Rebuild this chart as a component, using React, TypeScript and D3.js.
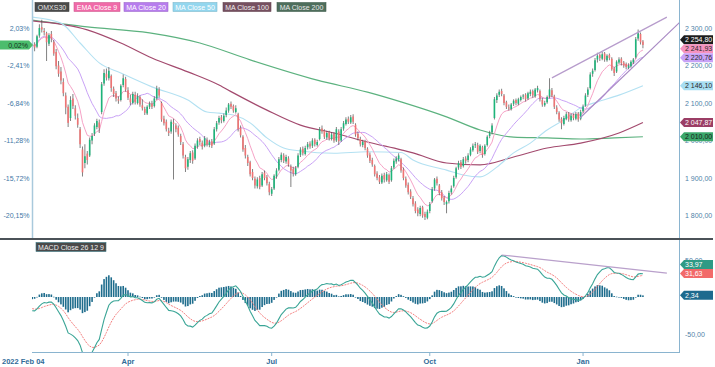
import React from 'react';
import * as d3 from 'd3';

// ---------- DATA ----------
const START_DATE = '2022-02-04';
const HOLIDAYS = ['2022-04-15', '2022-04-18', '2022-05-26', '2022-06-06', '2022-06-24', '2022-12-26', '2023-01-06'];

const opens = [
  2262, 2256, 2250, 2280, 2302, 2292, 2286, 2258, 2284, 2262,
  2236, 2200, 2184, 2156, 2120, 2090, 2060, 2112, 2086, 2060,
  2030, 1976, 1940, 1965, 1960, 2000, 2018, 2036, 2048, 2076,
  2152, 2178, 2166, 2172, 2138, 2126, 2110, 2108, 2148, 2164,
  2134, 2112, 2100, 2122, 2100, 2116, 2094, 2084, 2072, 2090,
  2098, 2092, 2112, 2136, 2100, 2058, 2050, 2026, 2024, 2048,
  2040, 2034, 2012, 1990, 1956, 1930, 1948, 1968, 1952, 1984,
  2004, 1994, 1986, 2002, 1988, 1998, 1992, 2030, 2048, 2062,
  2052, 2068, 2080, 2098, 2092, 2076, 2070, 2034, 2010, 1980,
  1956, 1942, 1916, 1898, 1878, 1900, 1880, 1914, 1902, 1884,
  1858, 1872, 1904, 1922, 1948, 1960, 1944, 1952, 1930, 1924,
  1910, 1930, 1962, 1978, 1964, 1982, 1992, 1986, 2002, 1988,
  2004, 2032, 2026, 2008, 2022, 2004, 2018, 2000, 2024, 2000,
  2032, 2044, 2058, 2048, 2064, 2042, 2018, 2004, 1988, 1998,
  1978, 1962, 1948, 1932, 1912, 1902, 1888, 1908, 1894, 1908,
  1894, 1928, 1944, 1950, 1950, 1922, 1898, 1882, 1864, 1846,
  1832, 1816, 1804, 1822, 1804, 1794, 1812, 1838, 1872, 1898,
  1880, 1862, 1848, 1830, 1838, 1862, 1878, 1902, 1928, 1942,
  1932, 1952, 1948, 1962, 1974, 1988, 1988, 1972, 1982, 1964,
  1988, 2012, 2022, 2060, 2108, 2122, 2132, 2120, 2102, 2088,
  2084, 2098, 2108, 2098, 2108, 2118, 2122, 2112, 2124, 2132,
  2118, 2134, 2132, 2108, 2094, 2102, 2118, 2134, 2118, 2088,
  2074, 2058, 2044, 2058, 2072, 2054, 2068, 2058, 2072, 2058,
  2078, 2094, 2122, 2140, 2178, 2188, 2216, 2228, 2218, 2232,
  2214, 2228, 2218, 2192, 2184, 2208, 2218, 2208, 2204, 2194,
  2198, 2208, 2222, 2272, 2284, 2264
];
const highs = [
  2270, 2262, 2282, 2310, 2322, 2300, 2290, 2286, 2292, 2268,
  2244, 2212, 2196, 2166, 2128, 2096, 2118, 2124, 2094, 2072,
  2036, 1984, 1990, 1972, 2008, 2020, 2046, 2058, 2056, 2156,
  2190, 2192, 2196, 2176, 2144, 2132, 2118, 2150, 2176, 2170,
  2142, 2122, 2130, 2130, 2126, 2120, 2110, 2090, 2094, 2104,
  2106, 2118, 2146, 2142, 2104, 2066, 2056, 2034, 2056, 2058,
  2046, 2040, 2018, 1996, 1962, 1956, 1972, 1974, 1992, 2006,
  2010, 2000, 2012, 2008, 2002, 2004, 2036, 2052, 2066, 2068,
  2072, 2088, 2100, 2104, 2096, 2094, 2074, 2040, 2014, 1988,
  1962, 1946, 1924, 1904, 1902, 1906, 1916, 1920, 1908, 1890,
  1876, 1910, 1926, 1956, 1968, 1966, 1962, 1958, 1936, 1930,
  1932, 1966, 1982, 1984, 1986, 1996, 1998, 2006, 2006, 2002,
  2036, 2040, 2030, 2026, 2026, 2022, 2022, 2036, 2030, 2036,
  2052, 2062, 2064, 2068, 2070, 2046, 2024, 2010, 2002, 2002,
  1982, 1968, 1954, 1936, 1918, 1908, 1912, 1914, 1916, 1912,
  1932, 1952, 1958, 1966, 1954, 1928, 1904, 1888, 1870, 1852,
  1838, 1822, 1826, 1826, 1810, 1816, 1836, 1876, 1900, 1904,
  1884, 1868, 1852, 1840, 1866, 1880, 1906, 1930, 1946, 1948,
  1956, 1958, 1966, 1982, 1992, 1996, 1994, 1990, 1986, 1990,
  2014, 2026, 2046, 2116, 2126, 2136, 2138, 2124, 2106, 2096,
  2100, 2110, 2112, 2114, 2120, 2124, 2126, 2130, 2136, 2136,
  2140, 2146, 2136, 2114, 2106, 2120, 2166, 2140, 2122, 2094,
  2078, 2062, 2066, 2076, 2076, 2072, 2072, 2076, 2076, 2082,
  2096, 2126, 2142, 2182, 2192, 2220, 2234, 2232, 2236, 2236,
  2230, 2232, 2222, 2196, 2214, 2222, 2222, 2212, 2208, 2206,
  2214, 2220, 2276, 2296, 2288, 2268
];
const lows = [
  2240, 2238, 2246, 2274, 2288, 2280, 2212, 2252, 2262, 2226,
  2190, 2170, 2150, 2118, 2070, 2036, 2052, 2084, 2056, 2034,
  1980, 1904, 1926, 1936, 1956, 1990, 2012, 2030, 2020, 2070,
  2146, 2160, 2160, 2130, 2116, 2104, 2098, 2104, 2142, 2130,
  2108, 2094, 2096, 2096, 2096, 2090, 2080, 2068, 2068, 2084,
  2084, 2088, 2108, 2114, 2050, 2040, 2024, 2012, 2018, 1896,
  2022, 2010, 1988, 1952, 1916, 1922, 1940, 1938, 1948, 1978,
  1988, 1976, 1982, 1984, 1982, 1980, 1988, 2024, 2042, 2046,
  2048, 2062, 2074, 2084, 2074, 2072, 2024, 2008, 1970, 1952,
  1932, 1904, 1894, 1872, 1872, 1870, 1876, 1894, 1880, 1854,
  1852, 1868, 1898, 1918, 1942, 1940, 1938, 1930, 1876, 1904,
  1906, 1926, 1956, 1960, 1960, 1976, 1978, 1980, 1984, 1984,
  2000, 2018, 2004, 2002, 2000, 2000, 1994, 1996, 1988, 1996,
  2026, 2040, 2044, 2044, 2044, 2010, 2000, 1984, 1982, 1974,
  1954, 1940, 1930, 1904, 1894, 1884, 1884, 1888, 1890, 1884,
  1890, 1924, 1938, 1944, 1914, 1894, 1874, 1856, 1844, 1824,
  1806, 1798, 1798, 1794, 1788, 1790, 1806, 1834, 1866, 1880,
  1854, 1840, 1828, 1806, 1832, 1856, 1874, 1898, 1922, 1924,
  1928, 1938, 1942, 1958, 1970, 1980, 1964, 1966, 1954, 1960,
  1984, 2006, 2016, 2056, 2100, 2116, 2118, 2094, 2084, 2080,
  2080, 2092, 2094, 2094, 2104, 2110, 2104, 2108, 2118, 2114,
  2114, 2128, 2104, 2090, 2090, 2098, 2112, 2116, 2084, 2070,
  2050, 2030, 2040, 2054, 2050, 2050, 2054, 2054, 2050, 2054,
  2074, 2090, 2116, 2136, 2170, 2184, 2208, 2212, 2214, 2210,
  2210, 2214, 2186, 2172, 2180, 2204, 2200, 2194, 2190, 2190,
  2194, 2204, 2218, 2266, 2256, 2246
];
const closes = [
  2254.27, 2248, 2278, 2300, 2296, 2289, 2262, 2281, 2272, 2232,
  2198, 2178, 2160, 2126, 2088, 2047, 2108, 2092, 2066, 2042,
  1990, 1915, 1958, 1948, 2002, 2012, 2040, 2052, 2034, 2150,
  2180, 2168, 2186, 2140, 2124, 2112, 2106, 2146, 2166, 2136,
  2114, 2102, 2124, 2102, 2118, 2096, 2086, 2074, 2090, 2098,
  2090, 2112, 2138, 2120, 2056, 2046, 2030, 2020, 2050, 2044,
  2030, 2016, 1996, 1960, 1926, 1950, 1966, 1946, 1986, 2000,
  1996, 1984, 2006, 1990, 1996, 1986, 2030, 2046, 2060, 2054,
  2066, 2080, 2096, 2090, 2080, 2086, 2030, 2014, 1976, 1960,
  1940, 1910, 1900, 1880, 1896, 1876, 1910, 1900, 1886, 1862,
  1870, 1906, 1920, 1950, 1962, 1946, 1956, 1936, 1920, 1912,
  1926, 1960, 1976, 1966, 1980, 1990, 1984, 2000, 1990, 1996,
  2030, 2024, 2010, 2020, 2006, 2016, 2000, 2030, 1998, 2030,
  2046, 2056, 2050, 2062, 2050, 2016, 2006, 1990, 1996, 1980,
  1960, 1946, 1936, 1910, 1900, 1890, 1906, 1896, 1910, 1890,
  1926, 1946, 1952, 1960, 1920, 1900, 1880, 1862, 1850, 1830,
  1812, 1806, 1820, 1800, 1796, 1810, 1830, 1870, 1896, 1886,
  1860, 1846, 1836, 1836, 1860, 1872, 1900, 1926, 1940, 1930,
  1950, 1946, 1960, 1976, 1986, 1990, 1970, 1986, 1962, 1986,
  2010, 2020, 2040, 2110, 2120, 2130, 2124, 2100, 2090, 2086,
  2096, 2106, 2100, 2110, 2116, 2120, 2110, 2126, 2130, 2120,
  2136, 2140, 2110, 2096, 2100, 2116, 2136, 2120, 2090, 2076,
  2056, 2046, 2060, 2070, 2056, 2066, 2060, 2070, 2056, 2076,
  2090, 2120, 2136, 2176, 2186, 2214, 2226, 2220, 2230, 2216,
  2226, 2220, 2190, 2180, 2210, 2216, 2206, 2200, 2196, 2200,
  2210, 2216, 2270, 2286, 2262, 2254.8
];

// moving averages (bar index, value)
const ma50Bars = [0, 12, 20, 28, 37, 50, 65, 73, 78, 84, 91, 98, 105, 112, 126, 140, 154, 159, 173, 180, 187, 194, 201, 208, 215, 222, 229, 236, 245, 255];
const ma50Values = [2329, 2313, 2260, 2207, 2180, 2143, 2108, 2076, 2073, 2068, 2047, 2007, 1980, 1972, 1966, 1970, 1968, 1948, 1921, 1908, 1903, 1929, 1967, 1993, 2028, 2055, 2087, 2103, 2121, 2146.1];
const ma100Bars = [0, 23, 37, 50, 65, 78, 84, 98, 112, 126, 140, 154, 159, 173, 187, 201, 215, 229, 245, 255];
const ma100Values = [2319, 2295, 2260, 2220, 2183, 2148, 2127, 2081, 2041, 2020, 1996, 1975, 1967, 1940, 1935, 1956, 1980, 1993, 2020, 2047.87];
const ma200Bars = [0, 23, 49, 70, 91, 119, 140, 154, 173, 187, 201, 215, 229, 243, 255];
const ma200Values = [2321, 2303, 2287, 2260, 2215, 2161, 2129, 2103, 2063, 2028, 2009, 2007, 2004, 2007, 2010];

// indicator state before the first bar
const EMA12_SEED = 2268;
const EMA26_SEED = 2287;
const SIGNAL_SEED = -15;

// last values shown in the badges
const lastEma9 = 2241.93;
const lastMa20 = 2220.76;
const lastMa50 = 2146.1;
const lastMa100 = 2047.87;
const lastMa200 = 2010.0;
const lastMacd = 33.97;
const lastSignal = 31.63;
const lastHist = 2.34;

// trend lines (bar index, value)
const upperTrendBars = [217, 265];
const upperTrendValues = [2167, 2329];
const lowerTrendBars = [228.7, 270.5];
const lowerTrendValues = [2060, 2316];
const macdTrendBars = [196, 265];
const macdTrendValues = [56.8, 32.4];

const priceTicks = [2300, 2200, 2100, 2000, 1900, 1800];
const macdTicks = [50, -50];
const legendLabels = ['OMXS30', 'EMA Close 9', 'MA Close 20', 'MA Close 50', 'MA Close 100', 'MA Close 200'];
const macdLabel = 'MACD Close 26 12 9';

// ---------- STYLE / LAYOUT ----------
const FONT = '"Liberation Sans", Arial, sans-serif';
const FS = 7;
const C_UP = '#1db57a';
const C_DOWN = '#ef7474';
const C_EMA9 = '#f6a2c6';
const C_MA20 = '#c9a2f6';
const C_MA50 = '#b3e1f2';
const C_MA100 = '#a34a6e';
const C_MA200 = '#5cb27f';
const C_AXIS = '#3f78a6';
const legendBoxes = [
  { x: 35, w: 34, bg: '#4a4a4a', fg: '#e2e2e2' },
  { x: 74, w: 46, bg: '#f06aa8', fg: '#ffffff' },
  { x: 124, w: 44, bg: '#b77ded', fg: '#ffffff' },
  { x: 173, w: 44, bg: '#93d6ee', fg: '#ffffff' },
  { x: 223, w: 48, bg: '#765060', fg: '#eeeeee' },
  { x: 277, w: 49, bg: '#4e6e5c', fg: '#e8e8e8' },
];

function buildDates(n: number): Date[] {
  const out: Date[] = [];
  const hol = new Set(HOLIDAYS);
  const fmt = d3.timeFormat('%Y-%m-%d');
  const d = new Date(START_DATE + 'T00:00:00');
  while (out.length < n) {
    const wd = d.getDay();
    if (wd !== 0 && wd !== 6 && !hol.has(fmt(d))) out.push(new Date(d));
    d.setDate(d.getDate() + 1);
  }
  return out;
}

function layoutUp(items: { y: number }[], gap: number) {
  const sorted = [...items].sort((a, b) => b.y - a.y);
  let prev = Infinity;
  const res = new Map<any, number>();
  sorted.forEach((it) => {
    const pos = Math.min(it.y, prev - gap);
    res.set(it, pos);
    prev = pos;
  });
  return res;
}

function RightBadge({ y, text, bg, fg }: { y: number; text: string; bg: string; fg: string }) {
  const h = 9;
  const pts = `680,${y} 684,${y - h / 2} 713,${y - h / 2} 713,${y + h / 2} 684,${y + h / 2}`;
  return (
    <g>
      <polygon points={pts} fill={bg} />
      <text x={685} y={y + 2.6} fontSize={FS} fontFamily={FONT} fill={fg}>{text}</text>
    </g>
  );
}

export default function App() {
  const N = closes.length;
  const dates = buildDates(N);
  const x = d3.scaleLinear().domain([0, 270]).range([32.2, 678.85]);
  const y = d3.scaleLinear().domain([1740, 2374.67]).range([238, 0]);
  const ym = d3.scaleLinear().domain([-75.7, 75.7]).range([353, 241]);

  const loc = d3.formatLocale({ decimal: ',', thousands: ' ', grouping: [3], currency: ['', ''], minus: '-' } as any);
  const fPrice = loc.format(',.2f');
  const fPct = loc.format('.2f');

  const ema9: number[] = [];
  let e9 = closes[0];
  closes.forEach((c, i) => {
    e9 = i === 0 ? c : c * 0.2 + e9 * 0.8;
    ema9.push(e9);
  });
  const ma20 = closes.map((_, i) => d3.mean(closes.slice(Math.max(0, i - 19), i + 1)) as number);
  const macd: number[] = [];
  const signal: number[] = [];
  const hist: number[] = [];
  let e12 = EMA12_SEED, e26 = EMA26_SEED, sig = SIGNAL_SEED;
  closes.forEach((c) => {
    e12 = c * (2 / 13) + e12 * (11 / 13);
    e26 = c * (2 / 27) + e26 * (25 / 27);
    const m = e12 - e26;
    sig = m * 0.2 + sig * 0.8;
    macd.push(m);
    signal.push(sig);
    hist.push(m - sig);
  });

  const lineIdx = d3.line<number>().x((_, i) => x(i)).y((v) => y(v));
  const sparse = (bars: number[], scale: any) =>
    d3.line<number>().x((_, k) => x(bars[k])).y((v) => scale(v)).curve(d3.curveMonotoneX);
  const macdLine = d3.line<number>().x((_, i) => x(i)).y((v) => ym(v));

  const monthTicks: { i: number; label: string }[] = [];
  for (let i = 1; i < N; i++) {
    const m = dates[i].getMonth();
    if (m !== dates[i - 1].getMonth() && m % 3 === 0) monthTicks.push({ i, label: d3.timeFormat('%b')(dates[i]) });
  }
  const firstLabel = d3.timeFormat('%Y %b %d')(dates[0]);

  const priceBadges = [
    { y: y(closes[N - 1]), text: fPrice(closes[N - 1]), bg: '#1c1c1c', fg: '#ffffff' },
    { y: y(lastEma9), text: fPrice(lastEma9), bg: '#f693bf', fg: '#2a2a2a' },
    { y: y(lastMa20), text: fPrice(lastMa20), bg: '#c8a2f7', fg: '#2a2a2a' },
    { y: y(lastMa50), text: fPrice(lastMa50), bg: '#a8def2', fg: '#2a2a2a' },
    { y: y(lastMa100), text: fPrice(lastMa100), bg: '#9b3e65', fg: '#ffffff' },
    { y: y(lastMa200), text: fPrice(lastMa200), bg: '#3ba76b', fg: '#1a1a1a' },
  ];
  const pPos = layoutUp(priceBadges, 9);
  const macdBadges = [
    { y: ym(lastMacd), text: fPrice(lastMacd), bg: '#2e9a85', fg: '#ffffff' },
    { y: ym(lastSignal), text: fPrice(lastSignal), bg: '#f26a6a', fg: '#ffffff' },
    { y: ym(lastHist), text: fPrice(lastHist), bg: '#1d6a8e', fg: '#ffffff' },
  ];
  const mPos = layoutUp(macdBadges, 9);

  const pctLast = fPct((closes[N - 1] / closes[0] - 1) * 100) + '%';
  const yLast = y(closes[N - 1]);
  const bw = 1.6;

  return (
    <svg width={715} height={367} style={{ position: 'absolute', left: 0, top: 0, background: '#fff' }} fontFamily={FONT}>
      <defs>
        <clipPath id="mainClip"><rect x={32} y={0} width={647} height={238} /></clipPath>
        <clipPath id="macdClip"><rect x={32} y={241} width={647} height={112} /></clipPath>
      </defs>

      <g clipPath="url(#mainClip)">
        <path d={sparse(ma200Bars, y)(ma200Values) || ''} fill="none" stroke={C_MA200} strokeWidth={1.2} />
        <path d={sparse(ma100Bars, y)(ma100Values) || ''} fill="none" stroke={C_MA100} strokeWidth={1.2} />
        <path d={sparse(ma50Bars, y)(ma50Values) || ''} fill="none" stroke={C_MA50} strokeWidth={1.1} />
        <path d={lineIdx(ma20) || ''} fill="none" stroke={C_MA20} strokeWidth={1} />
        <path d={lineIdx(ema9) || ''} fill="none" stroke={C_EMA9} strokeWidth={1} />
        {closes.map((c, i) => {
          const o = opens[i];
          const up = c >= o;
          const top = y(Math.max(o, c));
          const bot = y(Math.min(o, c));
          return (
            <g key={i}>
              <line x1={x(i)} x2={x(i)} y1={y(highs[i])} y2={y(lows[i])} stroke="#4a4a4a" strokeWidth={0.7} />
              <rect x={x(i) - bw / 2} y={top} width={bw} height={Math.max(1, bot - top)} fill={up ? C_UP : C_DOWN} />
            </g>
          );
        })}
        <path d={sparse(upperTrendBars, y)(upperTrendValues) || ''} fill="none" stroke="#b79ccc" strokeWidth={1.2} />
        <path d={sparse(lowerTrendBars, y)(lowerTrendValues) || ''} fill="none" stroke="#a98ac4" strokeWidth={1.2} />
      </g>

      {legendLabels.map((t, k) => {
        const b = legendBoxes[k];
        return (
          <g key={t}>
            <rect x={b.x} y={2.5} width={b.w} height={9} fill={b.bg} stroke={d3.color(b.bg)!.darker(0.4).toString()} strokeWidth={0.6} />
            <text x={b.x + b.w / 2} y={9.5} fontSize={FS} textAnchor="middle" fill={b.fg}>{t}</text>
          </g>
        );
      })}

      <line x1={32.5} x2={32.5} y1={0} y2={239} stroke="#a9c9dc" strokeWidth={1.5} />
      <line x1={679.5} x2={679.5} y1={0} y2={353} stroke="#8ab4cf" strokeWidth={1} />
      <line x1={0} x2={713} y1={239} y2={239} stroke="#4b5258" strokeWidth={2} />

      {priceTicks.map((t) => (
        <text key={'p' + t} x={29.5} y={y(t) + 2.6} fontSize={FS} textAnchor="end" fill={C_AXIS}>
          {fPct((t / closes[0] - 1) * 100) + '%'}
        </text>
      ))}
      {priceTicks.map((t) => (
        <text key={'r' + t} x={685} y={y(t) + 2.6} fontSize={FS} fill="#4f7fa8">{fPrice(t)}</text>
      ))}

      <polygon points={`0,${yLast - 4.5} 29,${yLast - 4.5} 33,${yLast} 29,${yLast + 4.5} 0,${yLast + 4.5}`} fill="#4cbd6d" />
      <text x={28} y={yLast + 2.6} fontSize={FS} textAnchor="end" fill="#14331f">{pctLast}</text>

      {priceBadges.map((b, k) => (
        <RightBadge key={'pb' + k} y={pPos.get(b) as number} text={b.text} bg={b.bg} fg={b.fg} />
      ))}

      <g clipPath="url(#macdClip)">
        {hist.map((h, i) => (
          <rect key={'h' + i} x={x(i) - bw / 2} y={Math.min(ym(h), ym(0))} width={bw} height={Math.max(0.6, Math.abs(ym(h) - ym(0)))} fill="#1f6d8d" />
        ))}
        <path d={macdLine(signal) || ''} fill="none" stroke="#f47f7f" strokeWidth={1} strokeDasharray="2,1" />
        <path d={macdLine(macd) || ''} fill="none" stroke="#3aa596" strokeWidth={1.1} />
        <path d={sparse(macdTrendBars, ym)(macdTrendValues) || ''} fill="none" stroke="#b9a0cb" strokeWidth={1.2} />
      </g>
      <rect x={36} y={242.5} width={70} height={9} fill="#4a4a4a" stroke="#3c7a86" strokeWidth={0.6} />
      <text x={71} y={249.5} fontSize={FS} textAnchor="middle" fill="#eeeeee">{macdLabel}</text>

      {macdTicks.map((t) => (
        <text key={'m' + t} x={685} y={ym(t) + 2.6} fontSize={FS} fill="#4f7fa8">{fPrice(t)}</text>
      ))}
      {macdBadges.map((b, k) => (
        <RightBadge key={'mb' + k} y={mPos.get(b) as number} text={b.text} bg={b.bg} fg={b.fg} />
      ))}

      <line x1={32} x2={679} y1={352.5} y2={352.5} stroke="#8ab4cf" strokeWidth={1} />
      {monthTicks.map((m) => (
        <g key={m.label}>
          <line x1={x(m.i)} x2={x(m.i)} y1={352.5} y2={356} stroke="#8ab4cf" />
          <text x={x(m.i)} y={364} fontSize={7.5} fontWeight="bold" textAnchor="middle" fill="#2f6b98">{m.label}</text>
        </g>
      ))}
      <text x={2} y={364} fontSize={7.5} fontWeight="bold" fill="#2f6b98">{firstLabel}</text>
    </svg>
  );
}
